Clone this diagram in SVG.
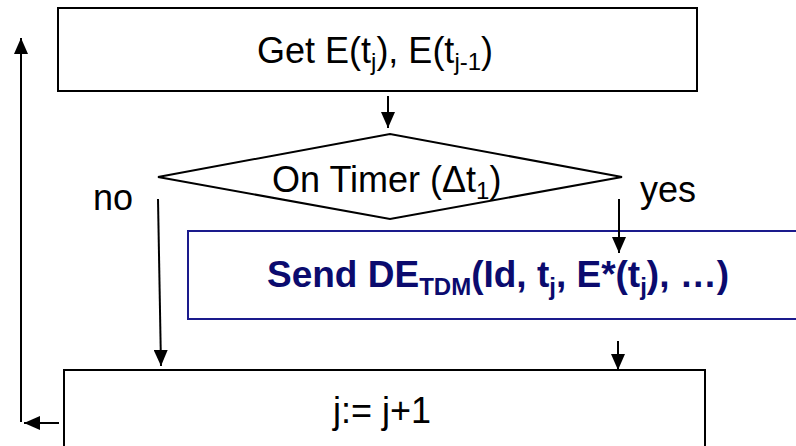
<svg xmlns="http://www.w3.org/2000/svg" width="796" height="446" viewBox="0 0 796 446">
  <style>
    .box { fill: #ffffff; stroke: #000000; stroke-width: 2; }
    .blue { fill: #ffffff; stroke: #1a1a8c; stroke-width: 2; }
    .txt { font-family: "Liberation Sans", Arial, sans-serif; font-size: 36px; fill: #000000; }
    .bold { font-family: "Liberation Sans", Arial, sans-serif; font-size: 37px; font-weight: bold; fill: #0b0b6e; }
    .sub { font-size: 24px; }
    .edge { fill: none; stroke: #000000; stroke-width: 2; }
  </style>
  <defs>
    <marker id="arrow" viewBox="0 0 10 10" refX="10" refY="5" markerWidth="16" markerHeight="14" markerUnits="userSpaceOnUse" orient="auto" preserveAspectRatio="none">
      <path d="M0,0 L10,5 L0,10 z" fill="#000000"/>
    </marker>
  </defs>

  <g id="get-values">
    <rect class="box" x="58" y="8" width="639" height="83"/>
    <text class="txt" x="257" y="63">Get E(t<tspan class="sub" dy="7">j</tspan><tspan dy="-7">), E(t</tspan><tspan class="sub" dy="7">j-1</tspan><tspan dy="-7">)</tspan></text>
  </g>

  <g id="on-timer">
    <polygon class="box" points="158,177 390,134 622,177 390,219"/>
    <text class="txt" x="272" y="192">On Timer (Δt<tspan class="sub" dy="7">1</tspan><tspan dy="-7">)</tspan></text>
  </g>

  <g id="send">
    <rect class="blue" x="188" y="231" width="640" height="88"/>
    <text class="bold" x="267" y="287">Send DE<tspan class="sub" dy="8">TDM</tspan><tspan dy="-8">(Id, t</tspan><tspan class="sub" dy="8">j</tspan><tspan dy="-8">, E*(t</tspan><tspan class="sub" dy="8">j</tspan><tspan dy="-8">), …)</tspan></text>
  </g>

  <g id="increment">
    <rect class="box" x="64" y="370" width="641" height="100"/>
    <text class="txt" x="333" y="423">j:= j+1</text>
  </g>

  <g id="labels">
    <text class="txt" x="93" y="210">no</text>
    <text class="txt" x="640" y="202">yes</text>
  </g>

  <g id="connectors">
    <!-- get values -> timer check -->
    <line class="edge" x1="388" y1="96" x2="388" y2="128" marker-end="url(#arrow)"/>
    <!-- yes branch -> send -->
    <line class="edge" x1="619" y1="199" x2="619" y2="253" marker-end="url(#arrow)"/>
    <!-- no branch -> increment -->
    <line class="edge" x1="158" y1="199" x2="161" y2="366" marker-end="url(#arrow)"/>
    <!-- send -> increment -->
    <line class="edge" x1="618" y1="341" x2="618" y2="370" marker-end="url(#arrow)"/>
    <!-- loop back -->
    <line class="edge" x1="59" y1="423" x2="24" y2="423" marker-end="url(#arrow)"/>
    <line class="edge" x1="21" y1="422" x2="21" y2="38" marker-end="url(#arrow)"/>
  </g>
</svg>
